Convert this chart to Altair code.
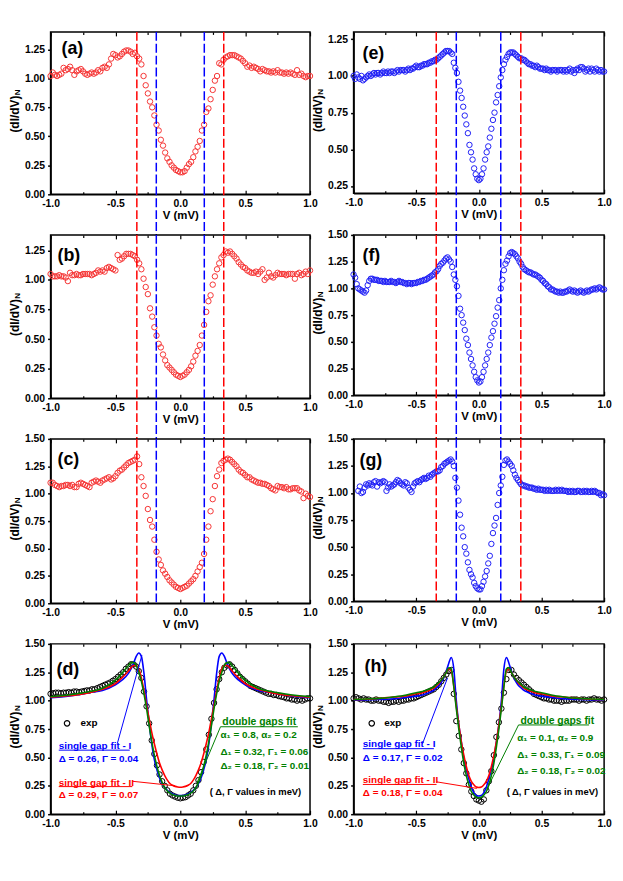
import altair as alt
import pandas as pd

FONT = "Liberation Sans"
RED_PT = "#f53535"
BLUE_PT = "#2020f5"
RED = "#ff0000"
BLUE = "#0000ff"
GREEN = "#008000"
BLACK = "#000000"

# ---------------- voltage grids ----------------
V121 = [round(-1 + k / 60, 4) for k in range(121)]
V161 = [round(-1 + k / 80, 4) for k in range(161)]
V101 = [round(-1 + k / 50, 4) for k in range(101)]
CURVE_V = ([-1.0, -0.9, -0.8, -0.7, -0.6, -0.5, -0.45]
           + [round(-0.4 + 0.02 * i, 2) for i in range(41)]
           + [0.45, 0.5, 0.6, 0.7, 0.8, 0.9, 1.0])

XTICKS = [-1.0, -0.5, 0.0, 0.5, 1.0]
XMINOR = [-0.75, -0.25, 0.25, 0.75]
Y125 = [0.0, 0.25, 0.5, 0.75, 1.0, 1.25]
Y150 = [0.0, 0.25, 0.5, 0.75, 1.0, 1.25, 1.5]
YE = [0.25, 0.5, 0.75, 1.0, 1.25]

# ---------------- panel (a) ----------------
A = [1.02, 1.05, 1.03, 1.02, 1.03, 1.04, 1.09, 1.07, 1.08, 1.10,
     1.07, 1.03, 1.06, 1.07, 1.08, 1.06, 1.04, 1.03, 1.04, 1.05,
     1.04, 1.05, 1.07, 1.06, 1.09, 1.10, 1.09, 1.12, 1.17, 1.21,
     1.20, 1.18, 1.19, 1.21, 1.23, 1.24, 1.24, 1.23, 1.21, 1.22,
     1.19, 1.17, 1.12, 1.02, 0.94, 0.87, 0.80, 0.75, 0.68, 0.60,
     0.55, 0.47, 0.42, 0.36, 0.31, 0.28, 0.25, 0.23, 0.21, 0.20,
     0.19, 0.19, 0.20, 0.23, 0.26, 0.28, 0.32, 0.37, 0.41, 0.46,
     0.55, 0.60, 0.71, 0.74, 0.82, 0.90, 0.98, 1.02, 1.13, 1.12,
     1.16, 1.18, 1.19, 1.20, 1.20, 1.20, 1.19, 1.18, 1.17, 1.15,
     1.13, 1.10, 1.11, 1.09, 1.10, 1.09, 1.08, 1.06, 1.08, 1.07,
     1.06, 1.06, 1.05, 1.06, 1.05, 1.07, 1.05, 1.05, 1.04, 1.05,
     1.04, 1.05, 1.04, 1.03, 1.07, 1.03, 1.04, 1.02, 1.01, 1.02,
     1.02]

# ---------------- panel (b) ----------------
B = [1.05, 1.03, 1.03, 1.03, 1.04, 1.03, 1.03, 1.02, 0.99, 1.06,
     1.04, 1.04, 1.05, 1.04, 1.04, 1.05, 1.05, 1.05, 1.05, 1.04,
     1.05, 1.06, 1.08, 1.07, 1.08, 1.07, 1.10, 1.11, 1.10, 1.09,
     1.08, 1.21, 1.17, 1.18, 1.20, 1.22, 1.22, 1.22, 1.21, 1.20,
     1.17, 1.14, 1.09, 1.01, 0.94, 0.88, 0.76, 0.69, 0.60, 0.53,
     0.46, 0.43, 0.37, 0.32, 0.28, 0.26, 0.24, 0.22, 0.20, 0.19,
     0.18, 0.19, 0.20, 0.22, 0.24, 0.27, 0.31, 0.36, 0.40, 0.45,
     0.53, 0.62, 0.73, 0.82, 0.87, 0.96, 1.03, 1.09, 1.14, 1.19,
     1.21, 1.24, 1.23, 1.24, 1.22, 1.20, 1.18, 1.15, 1.13, 1.11,
     1.10, 1.08, 1.07, 1.06, 1.06, 1.07, 1.05, 1.07, 1.09, 1.00,
     1.02, 1.06, 1.03, 1.02, 1.04, 1.06, 1.05, 1.05, 1.05, 1.04,
     1.05, 1.05, 1.05, 1.01, 1.05, 1.06, 1.04, 1.05, 1.07, 1.05,
     1.08]

# ---------------- panel (c) ----------------
C = [1.10, 1.10, 1.08, 1.07, 1.06, 1.07, 1.07, 1.08, 1.08, 1.07,
     1.08, 1.06, 1.06, 1.09, 1.10, 1.09, 1.08, 1.07, 1.06, 1.10,
     1.11, 1.12, 1.11, 1.10, 1.12, 1.13, 1.14, 1.15, 1.13, 1.14,
     1.16, 1.19, 1.21, 1.22, 1.24, 1.26, 1.28, 1.29, 1.30, 1.31,
     1.34, 1.27, 1.15, 1.07, 0.98, 0.86, 0.76, 0.70, 0.58, 0.47,
     0.40, 0.35, 0.30, 0.27, 0.24, 0.21, 0.19, 0.17, 0.15, 0.14,
     0.13, 0.14, 0.15, 0.16, 0.18, 0.20, 0.22, 0.25, 0.29, 0.33,
     0.37, 0.45, 0.58, 0.70, 0.84, 0.95, 1.07, 1.16, 1.22, 1.28,
     1.30, 1.31, 1.32, 1.31, 1.29, 1.27, 1.25, 1.22, 1.20, 1.19,
     1.17, 1.15, 1.15, 1.13, 1.12, 1.11, 1.10, 1.10, 1.09, 1.09,
     1.08, 1.07, 1.05, 1.04, 1.03, 1.07, 1.06, 1.06, 1.05, 1.06,
     1.04, 1.04, 1.05, 1.05, 1.05, 1.03, 1.02, 0.96, 1.00, 0.98,
     0.97]

# ---------------- panel (e) ----------------
E = [1.00, 0.98, 1.01, 0.99, 0.98, 1.00, 0.97, 0.98,
     0.99, 1.00, 1.01, 1.00, 1.01, 1.02, 1.01, 1.02,
     1.02, 1.01, 1.02, 1.03, 1.02, 1.02, 1.03, 1.02,
     1.03, 1.03, 1.02, 1.03, 1.04, 1.03, 1.04, 1.04,
     1.04, 1.03, 1.04, 1.05, 1.04, 1.05, 1.05, 1.06,
     1.07, 1.06, 1.06, 1.07, 1.07, 1.08, 1.08, 1.08,
     1.09, 1.09, 1.10, 1.10, 1.11, 1.11, 1.12, 1.13,
     1.14, 1.15, 1.16, 1.17, 1.17, 1.17, 1.16, 1.15,
     1.09, 1.055, 1.02, 0.96, 0.90, 0.85, 0.79, 0.73,
     0.67, 0.61, 0.53, 0.48, 0.43, 0.37, 0.33, 0.30,
     0.29,
     0.30, 0.33, 0.37, 0.43, 0.48, 0.52, 0.58, 0.64,
     0.70, 0.75, 0.82, 0.87, 0.93, 0.99, 1.04, 1.08,
     1.11, 1.13, 1.15, 1.16, 1.16, 1.16, 1.15, 1.14,
     1.13, 1.12, 1.12, 1.11, 1.11, 1.10, 1.09, 1.08,
     1.08, 1.07, 1.07, 1.06, 1.07, 1.06, 1.05, 1.05,
     1.05, 1.04, 1.05, 1.04, 1.04, 1.03, 1.04, 1.04,
     1.04, 1.03, 1.04, 1.04, 1.04, 1.03, 1.04, 1.03,
     1.04, 1.05, 1.03, 1.04, 1.02, 1.04, 1.05, 1.04,
     1.06, 1.06, 1.05, 1.03, 1.04, 1.05, 1.03, 1.05,
     1.04, 1.03, 1.05, 1.04, 1.03, 1.04, 1.03, 1.03]

# ---------------- panel (f) ----------------
F = [1.13, 1.10, 1.04, 1.00, 0.99, 0.98, 0.97, 0.96,
     0.98, 1.03, 1.07, 1.09, 1.09, 1.08, 1.08, 1.08,
     1.07, 1.07, 1.07, 1.06, 1.07, 1.06, 1.06, 1.06,
     1.07, 1.06, 1.06, 1.05, 1.06, 1.07, 1.06, 1.06,
     1.05, 1.05, 1.04, 1.05, 1.05, 1.04, 1.05, 1.05,
     1.05, 1.06, 1.06, 1.07, 1.07, 1.08, 1.08, 1.09,
     1.10, 1.11, 1.12, 1.13, 1.15, 1.16, 1.18, 1.21,
     1.23, 1.24, 1.26, 1.28, 1.29, 1.27, 1.25, 1.20,
     1.13, 1.08, 1.02, 0.93, 0.81, 0.75, 0.68, 0.61,
     0.53, 0.47, 0.40, 0.34, 0.28, 0.22, 0.17, 0.14,
     0.12,
     0.13, 0.17, 0.22, 0.28, 0.34, 0.40, 0.47, 0.54,
     0.60, 0.67, 0.74, 0.82, 0.89, 1.00, 1.08, 1.17,
     1.23, 1.26, 1.30, 1.33, 1.34, 1.33, 1.32, 1.30,
     1.28, 1.25, 1.23, 1.20, 1.18, 1.17, 1.16, 1.15,
     1.15, 1.14, 1.13, 1.13, 1.12, 1.11, 1.10, 1.08,
     1.07, 1.05, 1.04, 1.02, 1.01, 0.99, 0.99, 0.98,
     0.97, 0.97, 0.96, 0.97, 0.96, 0.96, 0.97, 0.97,
     0.98, 0.99, 0.98, 0.97, 0.98, 0.97, 0.96, 0.97,
     0.98, 0.97, 0.96, 0.97, 0.98, 0.97, 0.98, 0.99,
     0.99, 1.00, 0.99, 1.00, 1.01, 1.00, 0.99, 0.99]

# ---------------- panel (g) (starts at -0.9625) ----------------
G = [1.02, 1.06, 1.00, 1.01, 1.05,
     1.08, 1.07, 1.09, 1.08, 1.07, 1.10, 1.11, 1.06,
     1.10, 1.09, 1.10, 1.11, 1.10, 1.02, 1.05, 1.08,
     1.06, 1.07, 1.08, 1.10, 1.12, 1.11, 1.09, 1.08,
     1.07, 1.10, 1.09, 1.05, 1.03, 1.01, 1.06, 1.09,
     1.10, 1.11, 1.10, 1.12, 1.13, 1.14, 1.13, 1.14,
     1.16, 1.15, 1.17, 1.18, 1.19, 1.20, 1.20, 1.21,
     1.24, 1.25, 1.27, 1.28, 1.29, 1.30, 1.31, 1.29,
     1.25, 1.14, 1.05, 0.93, 0.80, 0.68, 0.60, 0.50,
     0.44, 0.36, 0.29, 0.25, 0.22, 0.17, 0.14, 0.12,
     0.11,
     0.11, 0.14, 0.18, 0.23, 0.28, 0.35, 0.42, 0.53,
     0.63, 0.70, 0.77, 0.89, 1.00, 1.07, 1.15, 1.26,
     1.30, 1.31, 1.29, 1.27, 1.25, 1.21, 1.17, 1.14,
     1.12, 1.10, 1.08, 1.07, 1.07, 1.06, 1.06, 1.05,
     1.05, 1.05, 1.04, 1.04, 1.03, 1.04, 1.03, 1.03,
     1.03, 1.02, 1.03, 1.02, 1.03, 1.02, 1.02, 1.02,
     1.03, 1.02, 1.03, 1.02, 1.03, 1.02, 1.02, 1.02,
     1.01, 1.02, 1.01, 1.02, 1.01, 1.01, 1.02, 1.02,
     1.01, 1.01, 1.02, 1.01, 1.02, 1.01, 1.01, 1.02,
     1.01, 1.02, 1.01, 1.00, 1.00, 0.98, 0.99, 0.98]
VG = V161[3:]

# ---------------- panel (d) ----------------
D_EXP = [1.06, 1.065, 1.07, 1.07, 1.065, 1.07, 1.07, 1.075, 1.07, 1.08,
         1.08, 1.075, 1.08, 1.085, 1.09, 1.09, 1.10, 1.10, 1.11, 1.12,
         1.13, 1.14, 1.15, 1.16, 1.175, 1.19, 1.21, 1.23, 1.25, 1.28,
         1.30, 1.32, 1.32, 1.30, 1.26, 1.20, 1.08, 0.95, 0.80, 0.65,
         0.53, 0.43, 0.35, 0.29, 0.25, 0.21, 0.18, 0.165, 0.155, 0.145,
         0.14,
         0.145, 0.15, 0.165, 0.18, 0.21, 0.25, 0.30, 0.37, 0.46, 0.57,
         0.70, 0.84, 0.98, 1.10, 1.19, 1.25, 1.29, 1.31, 1.32, 1.30,
         1.27, 1.24, 1.21, 1.19, 1.17, 1.15, 1.13, 1.12, 1.11, 1.10,
         1.09, 1.08, 1.07, 1.06, 1.06, 1.05, 1.05, 1.04, 1.035, 1.03,
         1.02, 1.02, 1.01, 1.01, 1.00, 1.01, 1.00, 1.01, 1.02, 1.02]

D_BLUE = [1.025, 1.035, 1.05, 1.07, 1.09, 1.14, 1.18,
          1.24, 1.28, 1.33, 1.39, 1.42, 1.39, 1.24, 1.01, 0.80, 0.62,
          0.48, 0.39, 0.32, 0.27, 0.235, 0.21, 0.19, 0.18, 0.17, 0.165,
          0.165,
          0.165, 0.17, 0.18, 0.19, 0.21, 0.235, 0.27, 0.32, 0.39, 0.48,
          0.62, 0.80, 1.01, 1.24, 1.39, 1.42, 1.39, 1.33, 1.28, 1.24,
          1.18, 1.14, 1.09, 1.07, 1.05, 1.035, 1.025]
D_RED = [1.03, 1.04, 1.05, 1.07, 1.10, 1.15, 1.20,
         1.26, 1.29, 1.31, 1.31, 1.28, 1.20, 1.09, 0.96, 0.84, 0.72,
         0.62, 0.53, 0.45, 0.39, 0.34, 0.30, 0.27, 0.255, 0.245, 0.24,
         0.238,
         0.24, 0.245, 0.255, 0.27, 0.30, 0.34, 0.39, 0.45, 0.53, 0.62,
         0.72, 0.84, 0.96, 1.09, 1.20, 1.28, 1.31, 1.31, 1.29, 1.26,
         1.20, 1.15, 1.10, 1.07, 1.05, 1.04, 1.03]
D_GREEN = [1.035, 1.045, 1.06, 1.08, 1.11, 1.18, 1.24,
           1.31, 1.335, 1.335, 1.31, 1.25, 1.17, 1.06, 0.93, 0.78, 0.64,
           0.52, 0.42, 0.34, 0.28, 0.235, 0.205, 0.185, 0.172, 0.165, 0.16,
           0.16,
           0.16, 0.165, 0.172, 0.185, 0.205, 0.235, 0.28, 0.34, 0.42, 0.52,
           0.64, 0.78, 0.93, 1.06, 1.17, 1.25, 1.31, 1.335, 1.335, 1.31,
           1.24, 1.18, 1.11, 1.08, 1.06, 1.045, 1.035]

# ---------------- panel (h) ----------------
H_EXP = [1.02, 1.03, 1.02, 1.01, 1.02, 1.01, 1.01, 1.00, 1.00, 1.01,
         1.00, 1.00, 0.99, 0.99, 0.98, 0.99, 0.99, 1.00, 0.99, 1.00,
         1.00, 1.01, 1.01, 1.02, 1.02, 1.03, 1.04, 1.05, 1.06, 1.07,
         1.08, 1.09, 1.10, 1.12, 1.14, 1.17, 1.20, 1.23, 1.26, 1.27,
         1.06, 0.82, 0.69, 0.57, 0.45, 0.36, 0.26, 0.20, 0.16, 0.13,
         0.12,
         0.11, 0.13, 0.21, 0.29, 0.38, 0.52, 0.68, 0.81, 0.93, 1.07,
         1.19, 1.27, 1.27, 1.23, 1.20, 1.18, 1.16, 1.14, 1.12, 1.10,
         1.08, 1.06, 1.05, 1.04, 1.03, 1.02, 1.02, 1.01, 1.01, 1.00,
         1.00, 1.00, 0.99, 1.00, 1.00, 1.00, 1.01, 1.01, 1.01, 1.00,
         1.01, 1.01, 1.00, 1.01, 1.01, 1.02, 1.01, 1.01, 1.00, 1.01]

H_BLUE = [1.005, 1.007, 1.01, 1.015, 1.025, 1.04, 1.05,
          1.07, 1.08, 1.09, 1.11, 1.13, 1.16, 1.20, 1.26, 1.33, 1.38,
          1.28, 1.00, 0.79, 0.64, 0.49, 0.39, 0.31, 0.24, 0.19, 0.165,
          0.16,
          0.165, 0.19, 0.24, 0.31, 0.39, 0.49, 0.64, 0.79, 1.00, 1.28,
          1.38, 1.33, 1.26, 1.20, 1.16, 1.13, 1.11, 1.09, 1.08, 1.07,
          1.05, 1.04, 1.025, 1.015, 1.01, 1.007, 1.005]
H_RED = [1.01, 1.013, 1.02, 1.03, 1.04, 1.06, 1.07,
         1.09, 1.10, 1.11, 1.13, 1.15, 1.18, 1.21, 1.25, 1.28, 1.26,
         1.13, 0.95, 0.79, 0.64, 0.52, 0.42, 0.34, 0.29, 0.26, 0.24,
         0.235,
         0.24, 0.26, 0.29, 0.34, 0.42, 0.52, 0.64, 0.79, 0.95, 1.13,
         1.26, 1.28, 1.25, 1.21, 1.18, 1.15, 1.13, 1.11, 1.10, 1.09,
         1.07, 1.06, 1.04, 1.03, 1.02, 1.013, 1.01]
H_GREEN = [1.01, 1.015, 1.02, 1.03, 1.045, 1.07, 1.08,
           1.10, 1.11, 1.12, 1.14, 1.16, 1.18, 1.21, 1.25, 1.29, 1.28,
           1.12, 0.93, 0.75, 0.59, 0.45, 0.34, 0.26, 0.20, 0.17, 0.15,
           0.145,
           0.15, 0.17, 0.20, 0.26, 0.34, 0.45, 0.59, 0.75, 0.93, 1.12,
           1.28, 1.29, 1.25, 1.21, 1.18, 1.16, 1.14, 1.12, 1.11, 1.10,
           1.08, 1.07, 1.045, 1.03, 1.02, 1.015, 1.01]

# ---------------- annotations ----------------
TXT_COL = [BLUE, BLUE, RED, RED, GREEN, GREEN, GREEN, GREEN, BLACK, BLACK]
TXT_FS = [10, 10, 10, 10, 10.5, 10, 10, 10, 9.5, 10]

D_TXT = ["single gap fit - I", "Δ = 0.26, Γ = 0.04", "single gap fit - II",
         "Δ = 0.29, Γ = 0.07", "double gaps fit", "α₁ = 0.8, α₂ = 0.2",
         "Δ₁ = 0.32, Γ₁ = 0.06", "Δ₂ = 0.18, Γ₂ = 0.01",
         "( Δ, Γ values in meV)", "exp"]
D_TXT_V = [-0.937, -0.937, -0.937, -0.937, 0.324, 0.31, 0.31, 0.31, 0.228, -0.77]
D_TXT_Y = [0.60, 0.49, 0.275, 0.17, 0.81, 0.695, 0.55, 0.42, 0.195, 0.80]
D_UL = {"V": [-0.937, -0.937, 0.31], "V2": [-0.39, -0.37, 0.906],
        "y": [0.564, 0.243, 0.77], "col": [BLUE, RED, GREEN]}
D_LEAD = {"V": [-0.486, -0.37, 0.31], "y": [0.62, 0.29, 0.77],
          "V2": [-0.296, -0.04, 0.13], "y2": [1.40, 0.25, 0.28],
          "col": [BLUE, RED, GREEN]}
D_LEG = {"V": [-0.873], "y": [0.80]}

H_TXT = ["single gap fit - I", "Δ = 0.17, Γ = 0.02", "single gap fit - II",
         "Δ = 0.18, Γ = 0.04", "double gaps fit", "α₁ = 0.1, α₂ = 0.9",
         "Δ₁ = 0.33, Γ₁ = 0.09", "Δ₂ = 0.18, Γ₂ = 0.02",
         "( Δ, Γ values in meV)", "exp"]
H_TXT_V = [-0.926, -0.926, -0.926, -0.926, 0.332, 0.306, 0.306, 0.306, 0.222, -0.755]
H_TXT_Y = [0.615, 0.498, 0.30, 0.19, 0.824, 0.673, 0.524, 0.381, 0.198, 0.80]
H_UL = {"V": [-0.926, -0.926, 0.317], "V2": [-0.359, -0.338, 0.88],
        "y": [0.577, 0.262, 0.786], "col": [BLUE, RED, GREEN]}
H_LEAD = {"V": [-0.45, -0.338, 0.317], "y": [0.62, 0.285, 0.786],
          "V2": [-0.25, -0.016, 0.063], "y2": [1.20, 0.227, 0.218],
          "col": [BLUE, RED, GREEN]}
H_LEG = {"V": [-0.855], "y": [0.80]}

RED_L, BLUE_L = [-0.335, 0.335], [-0.185, 0.185]
RED_R, BLUE_R = [-0.34, 0.335], [-0.18, 0.175]

# ---------------- layout ----------------
W_L, W_R = 262, 253
ROW_SP, COL_SP = 41, 44
HA, HB, HC, HD = 164, 165, 166, 172
HE, HF, HG, HH = 163, 162, 164, 172
ROW0 = max(HA, HE) + ROW_SP
ROW1 = max(HB, HF) + ROW_SP

XSCALE = alt.Scale(domain=[-1, 1], nice=False, zero=False)


def xenc(main=False):
    if main:
        return alt.X("V:Q", scale=XSCALE,
                     axis=alt.Axis(values=XTICKS, title="V (mV)",
                                   labelExpr="replace(format(datum.value, '.1f'), '\u2212', '-')",
                                   labelFlush=False, labelOverlap=False, ticks=False,
                                   labelPadding=4, titlePadding=1))
    return alt.X("V:Q", scale=XSCALE, axis=None)


def yenc(dom, ticks):
    return alt.Y("y:Q", scale=alt.Scale(domain=dom, nice=False, zero=False),
                 axis=alt.Axis(values=ticks, format=".2f", title=None,
                               labelPadding=3, labelOverlap=False))


def inward_ticks(h, dom, ticks):
    """Invisible layers whose only job is to carry inward tick axes (top and bottom)."""
    layers = []
    for orient in ["top", "bottom"]:
        for vals, size in [(XTICKS, 4), (XMINOR, 2.5)]:
            layers.append(
                alt.Chart(pd.DataFrame({"V": [-1.0, 1.0], "y": [dom[0], dom[0]]}))
                .mark_point(opacity=0)
                .encode(x=alt.X("V:Q", scale=XSCALE,
                                axis=alt.Axis(orient=orient, offset=-h, values=vals,
                                              labels=False, domain=False, title=None,
                                              tickSize=size, tickWidth=1.2)),
                        y=yenc(dom, ticks)))
    return layers


def ytitle(h):
    t1 = alt.Chart(pd.DataFrame({"t": ["(dI/dV)"]})).mark_text(
        angle=270, fontSize=12, fontWeight="bold", align="center",
        baseline="middle", color="black").encode(
        text="t:N", x=alt.value(-36), y=alt.value(h / 2 + 1))
    t2 = alt.Chart(pd.DataFrame({"t": ["N"]})).mark_text(
        angle=270, fontSize=8, fontWeight="bold", align="center",
        baseline="middle", color="black").encode(
        text="t:N", x=alt.value(-33), y=alt.value(h / 2 - 21))
    return [t1, t2]


def plabel(txt, dx, dy):
    return alt.Chart(pd.DataFrame({"t": [txt]})).mark_text(
        fontSize=18, fontWeight="bold", align="left", baseline="middle",
        color="black").encode(text="t:N", x=alt.value(dx), y=alt.value(dy))


def finish(layers, w, h):
    return alt.layer(*layers).resolve_axis(x="independent").properties(
        width=w, height=h)


def scatter_panel(V, vals, color, w, h, dom, ticks, label, dx, dy,
                  rule_len, red_pos, blue_pos):
    df = pd.DataFrame({"V": V, "y": vals})
    pts = alt.Chart(df).mark_point(shape="circle", filled=False, size=30,
                                   strokeWidth=1, color=color, opacity=1).encode(
        x=xenc(True), y=yenc(dom, ticks))
    rdf = pd.DataFrame({"V": red_pos + blue_pos,
                        "c": [RED] * len(red_pos) + [BLUE] * len(blue_pos)})
    rules = alt.Chart(rdf).mark_rule(strokeDash=[9, 3], strokeWidth=1.5).encode(
        x=xenc(), y=alt.value(0), y2=alt.value(rule_len),
        color=alt.Color("c:N", scale=None))
    return finish([pts, rules, plabel(label, dx, dy), *ytitle(h),
                   *inward_ticks(h, dom, ticks)], w, h)


def fit_panel(exp_y, blue, red, green, txt, tv, ty, ul, lead, leg,
              w, h, label, dx, dy):
    y = yenc([0, 1.5], Y150)
    exp = alt.Chart(pd.DataFrame({"V": V101, "y": exp_y})).mark_point(
        shape="circle", filled=False, size=30, strokeWidth=1, color="black",
        opacity=1).encode(x=xenc(True), y=y)

    def curve(vals, col):
        return alt.Chart(pd.DataFrame({"V": CURVE_V, "y": vals})).mark_line(
            color=col, strokeWidth=1.6, interpolate="monotone").encode(x=xenc(), y=y)

    tdf = pd.DataFrame({"V": tv, "y": ty, "txt": txt, "col": TXT_COL, "fs": TXT_FS})
    texts = alt.Chart(tdf).mark_text(fontWeight="bold", align="left",
                                     baseline="middle").encode(
        x=xenc(), y=y, text="txt:N", color=alt.Color("col:N", scale=None),
        size=alt.Size("fs:Q", scale=None))
    underl = alt.Chart(pd.DataFrame(ul)).mark_rule(strokeWidth=1).encode(
        x=xenc(), x2="V2:Q", y=y, color=alt.Color("col:N", scale=None))
    leaders = alt.Chart(pd.DataFrame(lead)).mark_rule(strokeWidth=1).encode(
        x=xenc(), y=y, x2="V2:Q", y2="y2:Q", color=alt.Color("col:N", scale=None))
    legpt = alt.Chart(pd.DataFrame(leg)).mark_point(
        shape="circle", filled=False, size=30, strokeWidth=1.2,
        color="black", opacity=1).encode(x=xenc(), y=y)
    return finish([exp, curve(blue, BLUE), curve(red, RED), curve(green, GREEN),
                   underl, leaders, texts, legpt, plabel(label, dx, dy),
                   *ytitle(h), *inward_ticks(h, [0, 1.5], Y150)], w, h)


pa = scatter_panel(V121, A, RED_PT, W_L, HA, [0, 1.4], Y125, "(a)", 11, 17,
                   ROW0, RED_L, BLUE_L)
pb = scatter_panel(V121, B, RED_PT, W_L, HB, [0, 1.38], Y125, "(b)", 7, 21,
                   ROW1, RED_L, BLUE_L)
pc = scatter_panel(V121, C, RED_PT, W_L, HC, [0, 1.5], Y150, "(c)", 7, 21,
                   HC, RED_L, BLUE_L)
pe = scatter_panel(V161, E, BLUE_PT, W_R, HE, [0.2, 1.3], YE, "(e)", 9, 22,
                   ROW0, RED_R, BLUE_R)
pf = scatter_panel(V161, F, BLUE_PT, W_R, HF, [0, 1.5], Y150, "(f)", 9, 21,
                   ROW1, RED_R, BLUE_R)
pg = scatter_panel(VG, G, BLUE_PT, W_R, HG, [0, 1.5], Y150, "(g)", 6, 22,
                   HG, RED_R, BLUE_R)
pdd = fit_panel(D_EXP, D_BLUE, D_RED, D_GREEN, D_TXT, D_TXT_V, D_TXT_Y,
                D_UL, D_LEAD, D_LEG, W_L, HD, "(d)", 6, 26)
ph = fit_panel(H_EXP, H_BLUE, H_RED, H_GREEN, H_TXT, H_TXT_V, H_TXT_Y,
               H_UL, H_LEAD, H_LEG, W_R, HH, "(h)", 11, 23)

chart = alt.concat(
    pa, pe, pb, pf, pc, pg, pdd, ph,
    columns=2, spacing={"row": ROW_SP, "column": COL_SP},
    bounds="flush", align="each",
).properties(
    padding={"left": 0, "top": 18, "right": 2, "bottom": 4}
).configure_axis(
    labelFont=FONT, titleFont=FONT, labelFontSize=10.5, labelFontWeight="bold",
    titleFontSize=11.5, titleFontWeight="bold", labelColor="black",
    titleColor="black", domainColor="black", domainWidth=1.5,
    tickColor="black", tickWidth=1.5, tickSize=3, grid=False,
).configure_view(
    stroke="black", strokeWidth=1.5
).configure_text(
    font=FONT
)

chart.save("out.html", embed_options={"renderer": "svg", "actions": False})
